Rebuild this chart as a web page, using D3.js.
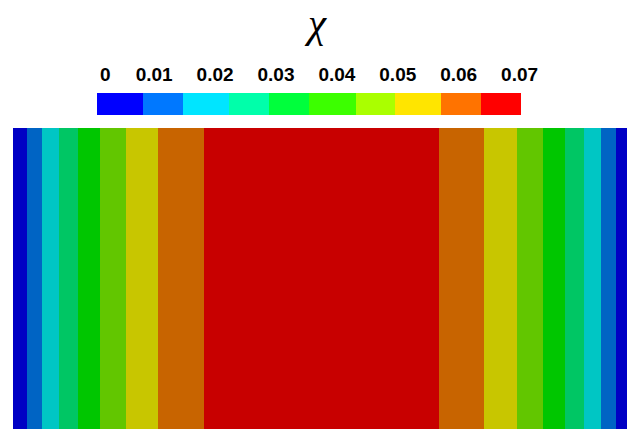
<!DOCTYPE html>
<html>
<head>
<meta charset="utf-8">
<script src="https://cdn.jsdelivr.net/npm/d3@7"></script>
<style>
  html, body { margin: 0; padding: 0; background: #fff; }
  svg { display: block; }
</style>
</head>
<body>
<svg id="chart" width="627" height="429"></svg>
<script>
// Colour legend: discrete bins of chi
const legendTicks = [0, 0.01, 0.02, 0.03, 0.04, 0.05, 0.06, 0.07];
const legendTickLabels = ["0", "0.01", "0.02", "0.03", "0.04", "0.05", "0.06", "0.07"];
const legendBinEdges = [0.0006, 0.0082, 0.0147, 0.0223, 0.0289, 0.0354, 0.0431, 0.0496, 0.0571, 0.0637, 0.0702];
const legendColors = ["#0000ff", "#0078ff", "#00e5ff", "#00ffaa", "#00ff3c", "#3cff00", "#aaff00", "#ffe500", "#ff7300", "#ff0000"];

// Field: chi profile across the domain (x in [-1, 1]), as contour bands
const bandEdges = [-1, -0.955, -0.906, -0.850, -0.789, -0.718, -0.634, -0.529, -0.382,
                   0.381, 0.528, 0.634, 0.719, 0.789, 0.851, 0.906, 0.955, 1];
const bandLevels = [0, 1, 2, 3, 4, 5, 6, 7, 8, 7, 6, 5, 4, 3, 2, 1, 0];
const fieldColors = ["#0000c4", "#0064c4", "#00c6c4", "#00c664", "#00c600", "#62c600", "#c8c600", "#c86400", "#c80000"];

const svg = d3.select("#chart");
const W = 627, H = 429;

// Title
svg.append("text")
  .attr("x", 317).attr("y", 37)
  .attr("text-anchor", "middle")
  .style("font-family", "'Liberation Serif', serif")
  .style("font-style", "italic")
  .style("font-size", "41px")
  .style("fill", "#000")
  .text("χ");

// Legend bar
const cbScale = d3.scaleLinear().domain([0, 0.07]).range([93.3, 519.6]);
const barTop = 93, barH = 22;
const bins = legendColors.map((c, i) => ({ x0: legendBinEdges[i], x1: legendBinEdges[i + 1], c }));
svg.append("g").selectAll("rect").data(bins).join("rect")
  .attr("x", d => cbScale(d.x0))
  .attr("y", barTop)
  .attr("width", d => cbScale(d.x1) - cbScale(d.x0))
  .attr("height", barH)
  .attr("fill", d => d.c)
  .attr("shape-rendering", "crispEdges");

// Legend tick labels (edge label kept inside the bar's left end)
const barLeft = cbScale(legendBinEdges[0]);
const labelG = svg.append("g");
legendTicks.forEach((v, i) => {
  const t = labelG.append("text")
    .attr("y", 80.7)
    .attr("text-anchor", "start")
    .style("font-family", "'Liberation Sans', Arial, sans-serif")
    .style("font-weight", "bold")
    .style("font-size", "19px")
    .style("fill", "#000")
    .text(legendTickLabels[i]);
  const w = t.node().getComputedTextLength();
  let x = cbScale(v) - w / 2;
  if (x < barLeft + 3) x = barLeft + 3;
  t.attr("x", x);
});

// Field bands
const xScale = d3.scaleLinear().domain([-1, 1]).range([13, 630]);
const fieldTop = 128;
const bands = bandLevels.map((lv, i) => ({ x0: bandEdges[i], x1: bandEdges[i + 1], lv }));
svg.append("g").selectAll("rect").data(bands).join("rect")
  .attr("x", d => xScale(d.x0))
  .attr("y", fieldTop)
  .attr("width", d => xScale(d.x1) - xScale(d.x0))
  .attr("height", H - fieldTop)
  .attr("fill", d => fieldColors[d.lv])
  .attr("shape-rendering", "crispEdges");
</script>
</body>
</html>
